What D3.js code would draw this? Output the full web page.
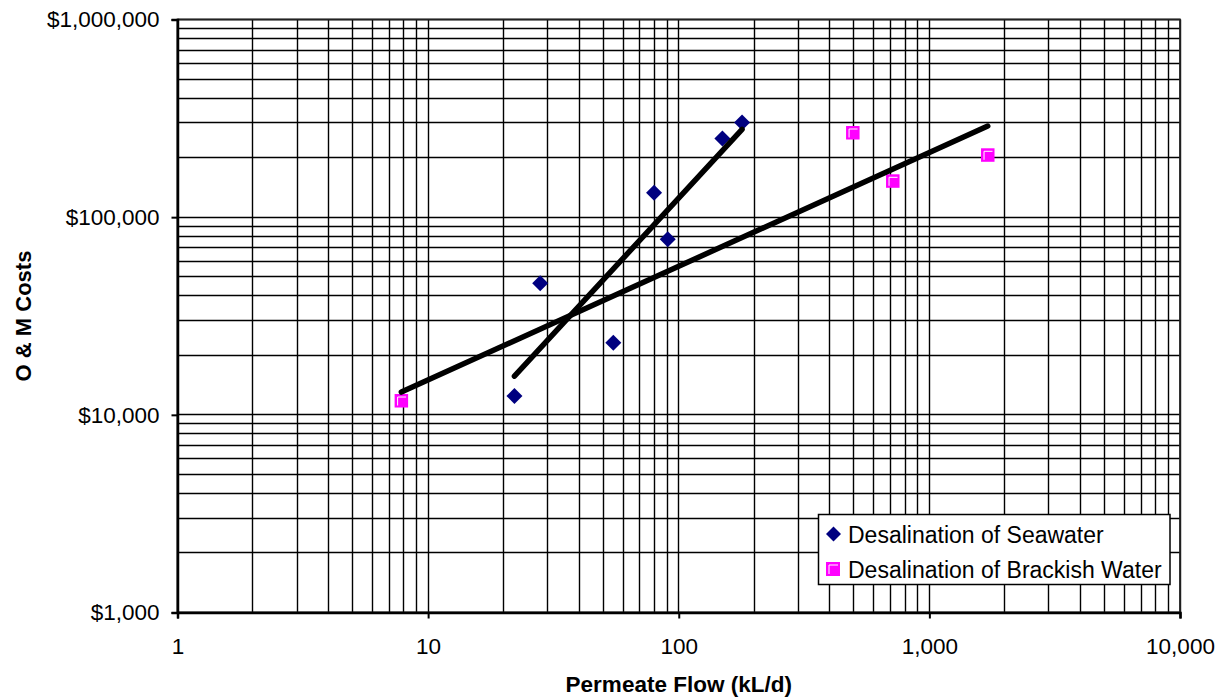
<!DOCTYPE html>
<html>
<head>
<meta charset="utf-8">
<script src="https://cdn.jsdelivr.net/npm/d3@7"></script>
<style>
  body { margin: 0; background: #fff; }
  text { font-family: "Liberation Sans", Arial, sans-serif; fill: #000; }
</style>
</head>
<body>
<div id="vis-container"></div>
<script>
// width and height
var w = 1229;
var h = 700;

// data
var seawaterFlow = [22.1, 28.0, 54.8, 79.7, 90.4, 149.3, 178.9];
var seawaterCost = [12450, 46250, 23150, 132850, 77240, 250300, 301600];
var brackishFlow = [7.82, 494.9, 714.5, 1710];
var brackishCost = [11780, 267300, 152300, 206200];

// power trend lines (straight on log-log), end points
var seawaterTrendFlow = [22.1, 178.9];
var seawaterTrendCost = [15700, 278000];
var brackishTrendFlow = [7.82, 1710];
var brackishTrendCost = [13040, 289000];

var xTickValues = [1, 10, 100, 1000, 10000];
var xTickLabels = ["1", "10", "100", "1,000", "10,000"];
var yTickValues = [1000, 10000, 100000, 1000000];
var yTickLabels = ["$1,000", "$10,000", "$100,000", "$1,000,000"];

var seriesNames = ["Desalination of Seawater", "Desalination of Brackish Water"];

// scales
var xScale = d3.scaleLog().domain([1, 10000]).range([177.5, 1180]);
var yScale = d3.scaleLog().domain([1000, 1000000]).range([612.5, 19.5]);

// snap a coordinate to the middle of a pixel so 1px lines stay solid
var snap = function (v) { return Math.round(v - 0.5) + 0.5; };

var svg = d3.select("#vis-container")
    .append("svg")
    .attr("width", w)
    .attr("height", h);

// grid lines
var grid = svg.append("g").attr("class", "grid");
grid.selectAll(".vgrid")
    .data(xScale.ticks())
    .enter().append("line")
    .attr("x1", function (d) { return snap(xScale(d)); })
    .attr("x2", function (d) { return snap(xScale(d)); })
    .attr("y1", yScale.range()[1])
    .attr("y2", yScale.range()[0])
    .attr("stroke", "#000")
    .attr("stroke-width", 1.4);

grid.selectAll(".hgrid")
    .data(yScale.ticks())
    .enter().append("line")
    .attr("x1", xScale.range()[0])
    .attr("x2", xScale.range()[1])
    .attr("y1", function (d) { return snap(yScale(d)); })
    .attr("y2", function (d) { return snap(yScale(d)); })
    .attr("stroke", "#000")
    .attr("stroke-width", 1.4);

// plot border top/right
svg.append("rect")
    .attr("x", xScale.range()[0])
    .attr("y", yScale.range()[1])
    .attr("width", xScale.range()[1] - xScale.range()[0])
    .attr("height", yScale.range()[0] - yScale.range()[1])
    .attr("fill", "none")
    .attr("stroke", "#222")
    .attr("stroke-width", 1.8);

// x axis
var xAxis = d3.axisBottom(xScale)
    .tickValues(xTickValues)
    .tickFormat(function (d, i) { return xTickLabels[i]; })
    .tickSize(6)
    .tickPadding(20);

var gx = svg.append("g")
    .attr("transform", "translate(0," + yScale.range()[0] + ")")
    .call(xAxis);
gx.select(".domain").attr("stroke", "#000").attr("stroke-width", 2.5);
gx.selectAll(".tick line").attr("stroke", "#000").attr("stroke-width", 2);
gx.selectAll(".tick text")
    .style("font-size", "22.5px")
    .style("font-family", "Liberation Sans, Arial, sans-serif");

// y axis
var yAxis = d3.axisLeft(yScale)
    .tickValues(yTickValues)
    .tickFormat(function (d, i) { return yTickLabels[i]; })
    .tickSize(6)
    .tickPadding(12);

var gy = svg.append("g")
    .attr("transform", "translate(" + xScale.range()[0] + ",0)")
    .call(yAxis);
gy.select(".domain").attr("stroke", "#000").attr("stroke-width", 2.5);
gy.selectAll(".tick line").attr("stroke", "#000").attr("stroke-width", 2);
gy.selectAll(".tick text")
    .style("font-size", "22.5px")
    .style("font-family", "Liberation Sans, Arial, sans-serif");

// axis titles
svg.append("text")
    .attr("x", (xScale.range()[0] + xScale.range()[1]) / 2)
    .attr("y", 692)
    .style("text-anchor", "middle")
    .style("font-size", "22.5px")
    .style("font-weight", "bold")
    .text("Permeate Flow (kL/d)");

svg.append("text")
    .attr("transform", "translate(31," + ((yScale.range()[0] + yScale.range()[1]) / 2) + ") rotate(-90)")
    .style("text-anchor", "middle")
    .style("font-size", "22px")
    .style("font-weight", "bold")
    .text("O & M Costs");

// markers
var seawater = seawaterFlow.map(function (d, i) { return [d, seawaterCost[i]]; });
var brackish = brackishFlow.map(function (d, i) { return [d, brackishCost[i]]; });

var diamond = function (g, cx, cy, r) {
    g.append("path")
        .attr("d", "M" + cx + "," + (cy - r) + "L" + (cx + r) + "," + cy +
            "L" + cx + "," + (cy + r) + "L" + (cx - r) + "," + cy + "Z")
        .attr("fill", "#000080");
};
var square = function (g, cx, cy, s) {
    g.append("rect")
        .attr("x", cx - s / 2).attr("y", cy - s / 2)
        .attr("width", s).attr("height", s)
        .attr("fill", "#FF00FF");
    g.append("path")
        .attr("d", "M" + (cx - s / 2 + 3) + "," + (cy + s / 2 - 2) +
            "L" + (cx - s / 2 + 3) + "," + (cy - s / 2 + 3) +
            "L" + (cx + s / 2 - 2) + "," + (cy - s / 2 + 3))
        .attr("fill", "none")
        .attr("stroke", "#fff")
        .attr("stroke-width", 1);
};

var marks = svg.append("g");
seawater.forEach(function (d) { diamond(marks, xScale(d[0]), yScale(d[1]), 8); });
brackish.forEach(function (d) { square(marks, xScale(d[0]), yScale(d[1]), 13.5); });

// trend lines
var line = d3.line()
    .x(function (d) { return xScale(d[0]); })
    .y(function (d) { return yScale(d[1]); });

var trends = [
    seawaterTrendFlow.map(function (d, i) { return [d, seawaterTrendCost[i]]; }),
    brackishTrendFlow.map(function (d, i) { return [d, brackishTrendCost[i]]; })
];
svg.selectAll(".trend")
    .data(trends)
    .enter().append("path")
    .attr("class", "trend")
    .attr("d", line)
    .attr("fill", "none")
    .attr("stroke", "#000")
    .attr("stroke-width", 5.5)
    .attr("stroke-linecap", "round");

// legend
var legend = svg.append("g");
legend.append("rect")
    .attr("x", 818.5).attr("y", 514.5)
    .attr("width", 351.5).attr("height", 70)
    .attr("fill", "#fff")
    .attr("stroke", "#000")
    .attr("stroke-width", 1.5);
diamond(legend, 833.5, 534, 7.5);
square(legend, 833, 569, 14);
legend.selectAll(".legend-text")
    .data(seriesNames)
    .enter().append("text")
    .attr("x", 848)
    .attr("y", function (d, i) { return 542.5 + i * 35.8; })
    .style("font-size", "23px")
    .text(function (d) { return d; });
</script>
</body>
</html>
